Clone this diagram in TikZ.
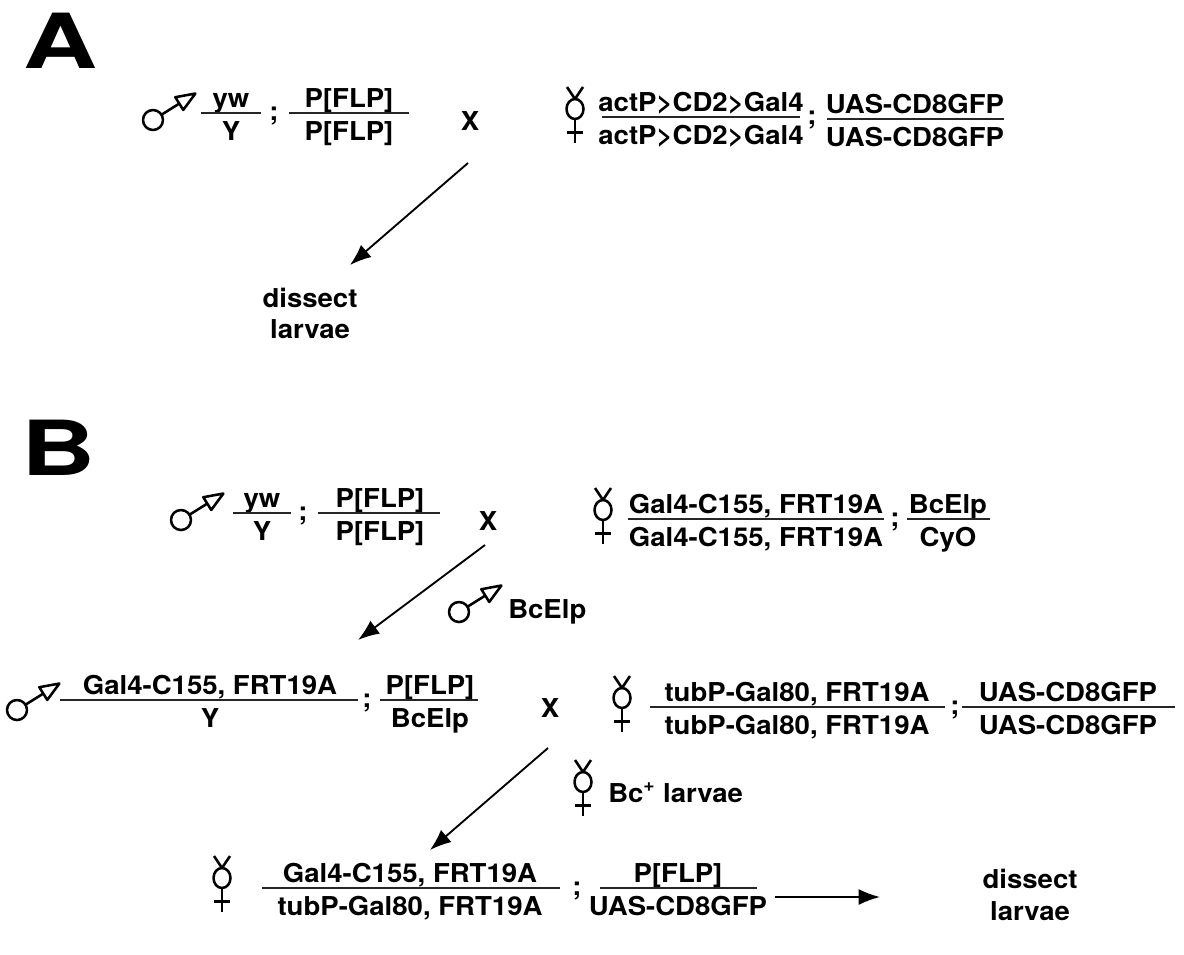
\documentclass[tikz,border=0pt]{standalone}
\usepackage{fontspec}
\setmainfont{TeX Gyre Heros}[FakeStretch=1.06]
\newfontfamily\labfont{TeX Gyre Heros}[FakeStretch=1.35]
\usetikzlibrary{arrows.meta,calc}
\newcommand\gfr[7]{%
  \node[gt] (#1n) at (#2,#3-6) {#6};
  \node[gt] (#1d) at (#2,#3+27) {#7};
  \coordinate (#1l) at (#4,#3);
  \coordinate (#1r) at (#5,#3);
  \draw[fracline] (#1l) -- (#1r);
}
\begin{document}
\begin{tikzpicture}[x=0.75pt,y=-0.75pt,
  gt/.style={font=\fontsize{19.5}{22}\selectfont\bfseries, inner sep=0pt, anchor=base},
  gtw/.style={gt, anchor=base west},
  big/.style={font=\fontsize{57}{62}\labfont\bfseries, inner sep=0pt, anchor=base},
  fracline/.style={line width=1.8pt, black!85},
  sym/.style={line width=1.9pt, line join=round},
  arr/.style={line width=1.4pt, -{Latex[length=16pt,width=12pt]}},
  male/.pic={
    \draw[sym] (0,0) circle[radius=10];
    \draw[sym] (-32:10) -- (-32:31);
    \draw[sym] ($(-32:31)+(58:7.5)$) -- (-32:50) -- ($(-32:31)+(-122:7.5)$) -- cycle;
  },
  female/.pic={
    \draw[sym] (0,0) ellipse[x radius=8.5, y radius=10];
    \draw[sym] (-8,-22) -- (0,-10) -- (8,-22);
    \draw[sym] (0,10) -- (0,34);
    \draw[sym] (-8,23.5) -- (8,23.5);
  }]
\fill[white] (0,0) rectangle (1184,954);
\useasboundingbox (0,0) rectangle (1184,954);

% ---------- Panel A ----------
\node[big] (labA) at (61,68) {A};
\pic (mA) at (153,120) {male};
\gfr{fa1}{231}{113}{201}{261}{yw}{Y}
\node[gt] (sa1) at (274,120) {;};
\gfr{fa2}{349}{113}{289}{409}{P[FLP]}{P[FLP]}
\node[gt] (xA) at (470,130) {X};
\pic (fA) at (575,109) {female};
\gfr{fa3}{701}{117}{602}{800}{actP>CD2>Gal4}{actP>CD2>Gal4}
\node[gt] (sa2) at (812,124) {;};
\gfr{fa4}{915}{119}{827}{1004}{UAS-CD8GFP}{UAS-CD8GFP}
\coordinate (aAs) at (468,163);
\coordinate (aAe) at (350,265);
\draw[arr] (aAs) -- (aAe);
\node[gt] (dA1) at (310,307) {dissect};
\node[gt] (dA2) at (310,338) {larvae};

% ---------- Panel B ----------
\node[big] (labB) at (59,475) {B};
% row 1
\pic (mB1) at (181,520) {male};
\gfr{fb1}{262}{513}{233}{291}{yw}{Y}
\node[gt] (sb1) at (303,520) {;};
\gfr{fb2}{380}{513}{318}{440}{P[FLP]}{P[FLP]}
\node[gt] (xB1) at (488,530) {X};
\pic (fB1) at (603,510) {female};
\gfr{fb3}{756}{519}{628}{884}{Gal4-C155, FRT19A}{Gal4-C155, FRT19A}
\node[gt] (sb2) at (895,526) {;};
\gfr{fb4}{948}{519}{907}{990}{BcElp}{CyO}
\coordinate (aB1s) at (485,545);
\coordinate (aB1e) at (358,640);
\draw[arr] (aB1s) -- (aB1e);
\pic (mL) at (459,612) {male};
\node[gtw] (lB1) at (508,618) {BcElp};
% row 2
\pic (mB2) at (17,710) {male};
\gfr{fc1}{210}{700}{60}{358}{Gal4-C155, FRT19A}{Y}
\node[gt] (sc1) at (367,707) {;};
\gfr{fc2}{430}{700}{380}{478}{P[FLP]}{BcElp}
\node[gt] (xB2) at (550,717) {X};
\pic (fB2) at (622,698) {female};
\gfr{fc3}{797}{707}{650}{945}{tubP-Gal80, FRT19A}{tubP-Gal80, FRT19A}
\node[gt] (sc2) at (955,714) {;};
\gfr{fc4}{1068}{707}{962}{1175}{UAS-CD8GFP}{UAS-CD8GFP}
\coordinate (aB2s) at (548,748);
\coordinate (aB2e) at (430,850);
\draw[arr] (aB2s) -- (aB2e);
\pic (fL) at (583,782) {female};
\node[gtw] (lB2) at (608,802) {Bc\textsuperscript{+} larvae};
% row 3
\pic (fB3) at (222,878) {female};
\gfr{fd1}{410}{888}{262}{560}{Gal4-C155, FRT19A}{tubP-Gal80, FRT19A}
\node[gt] (sd1) at (577,895) {;};
\gfr{fd2}{678}{888}{600}{757}{P[FLP]}{UAS-CD8GFP}
\node[gt] (dB1) at (1030,888) {dissect};
\node[gt] (dB2) at (1030,920) {larvae};
\coordinate (aB3s) at (775,897);
\coordinate (aB3e) at (880,897);
\draw[arr] (aB3s) -- (aB3e);
\end{tikzpicture}
\end{document}
